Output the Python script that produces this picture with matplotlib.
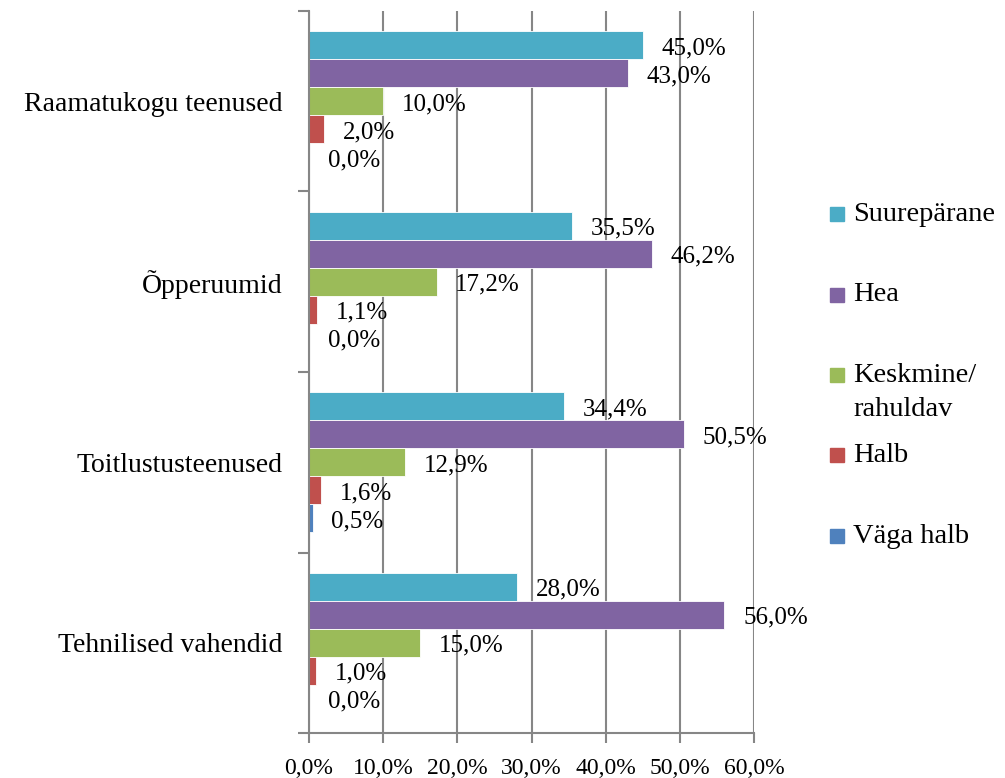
import matplotlib.pyplot as plt
from matplotlib.patches import Rectangle
from matplotlib.ticker import FixedLocator, FuncFormatter

plt.rcParams["font.family"] = ["Liberation Serif", "DejaVu Serif"]

categories = ["Raamatukogu teenused", "Õpperuumid", "Toitlustusteenused", "Tehnilised vahendid"]
series_names = ["Suurepärane", "Hea", "Keskmine/\nrahuldav", "Halb", "Väga halb"]
colors = ["#4BACC6", "#8064A2", "#9BBB59", "#C0504D", "#4F81BD"]

suureparane = [45.0, 35.5, 34.4, 28.0]
hea = [43.0, 46.2, 50.5, 56.0]
keskmine = [10.0, 17.2, 12.9, 15.0]
halb = [2.0, 1.1, 1.6, 1.0]
vaga_halb = [0.0, 0.0, 0.5, 0.0]
values = [suureparane, hea, keskmine, halb, vaga_halb]

x_ticks = [0, 10, 20, 30, 40, 50, 60]

fig = plt.figure(figsize=(10.05, 7.78), dpi=100)
ax = fig.add_axes([0.3075, 0.0578, 0.4428, 0.9281])

grey = "#868686"
bar_h = 0.155
for i, (name, vals, col) in enumerate(zip(series_names, values, colors)):
    ys = [c + (i - 2) * bar_h for c in range(len(categories))]
    ax.barh(ys, vals, height=bar_h, color=col, edgecolor="white", linewidth=0.6, zorder=3)
    for y, v in zip(ys, vals):
        ax.annotate(f"{v:.1f}%".replace(".", ","), (v, y), xytext=(13.5, -2),
                    textcoords="offset points", ha="left", va="center", fontsize=18, zorder=4)

ax.set_xlim(0, 60)
ax.set_ylim(3.5, -0.5)
ax.set_xticks(x_ticks)
ax.xaxis.set_major_formatter(FuncFormatter(lambda v, p: f"{v:.1f}%".replace(".", ",")))
ax.set_yticks(range(len(categories)))
ax.set_yticklabels(categories)
ax.yaxis.set_minor_locator(FixedLocator([-0.5, 0.5, 1.5, 2.5, 3.5]))
ax.tick_params(axis="y", which="major", length=0, pad=19, labelsize=20)
ax.tick_params(axis="y", which="minor", length=8, width=1.5, color=grey)
ax.tick_params(axis="x", which="major", length=7, width=1.5, color=grey, labelsize=17, pad=11)

ax.grid(axis="x", color=grey, linewidth=1.5, zorder=0)
for side in ["top", "right"]:
    ax.spines[side].set_visible(False)
for side in ["left", "bottom"]:
    ax.spines[side].set_color(grey)
    ax.spines[side].set_linewidth(1.5)
    ax.spines[side].set_zorder(5)

# legend drawn by hand so the two-line entry keeps even spacing
leg_top = 1 - 214 / 778
step = 80.5 / 778
for i, (name, col) in enumerate(zip(series_names, colors)):
    yc = leg_top - i * step
    fig.patches.append(Rectangle((830 / 1005, yc - 7 / 778), 14 / 1005, 14 / 778,
                                 transform=fig.transFigure, color=col))
    fig.text(853 / 1005, yc + 12 / 778, name, ha="left", va="top", fontsize=20.5, linespacing=1.5)

fig.savefig("out.png", dpi=100)
